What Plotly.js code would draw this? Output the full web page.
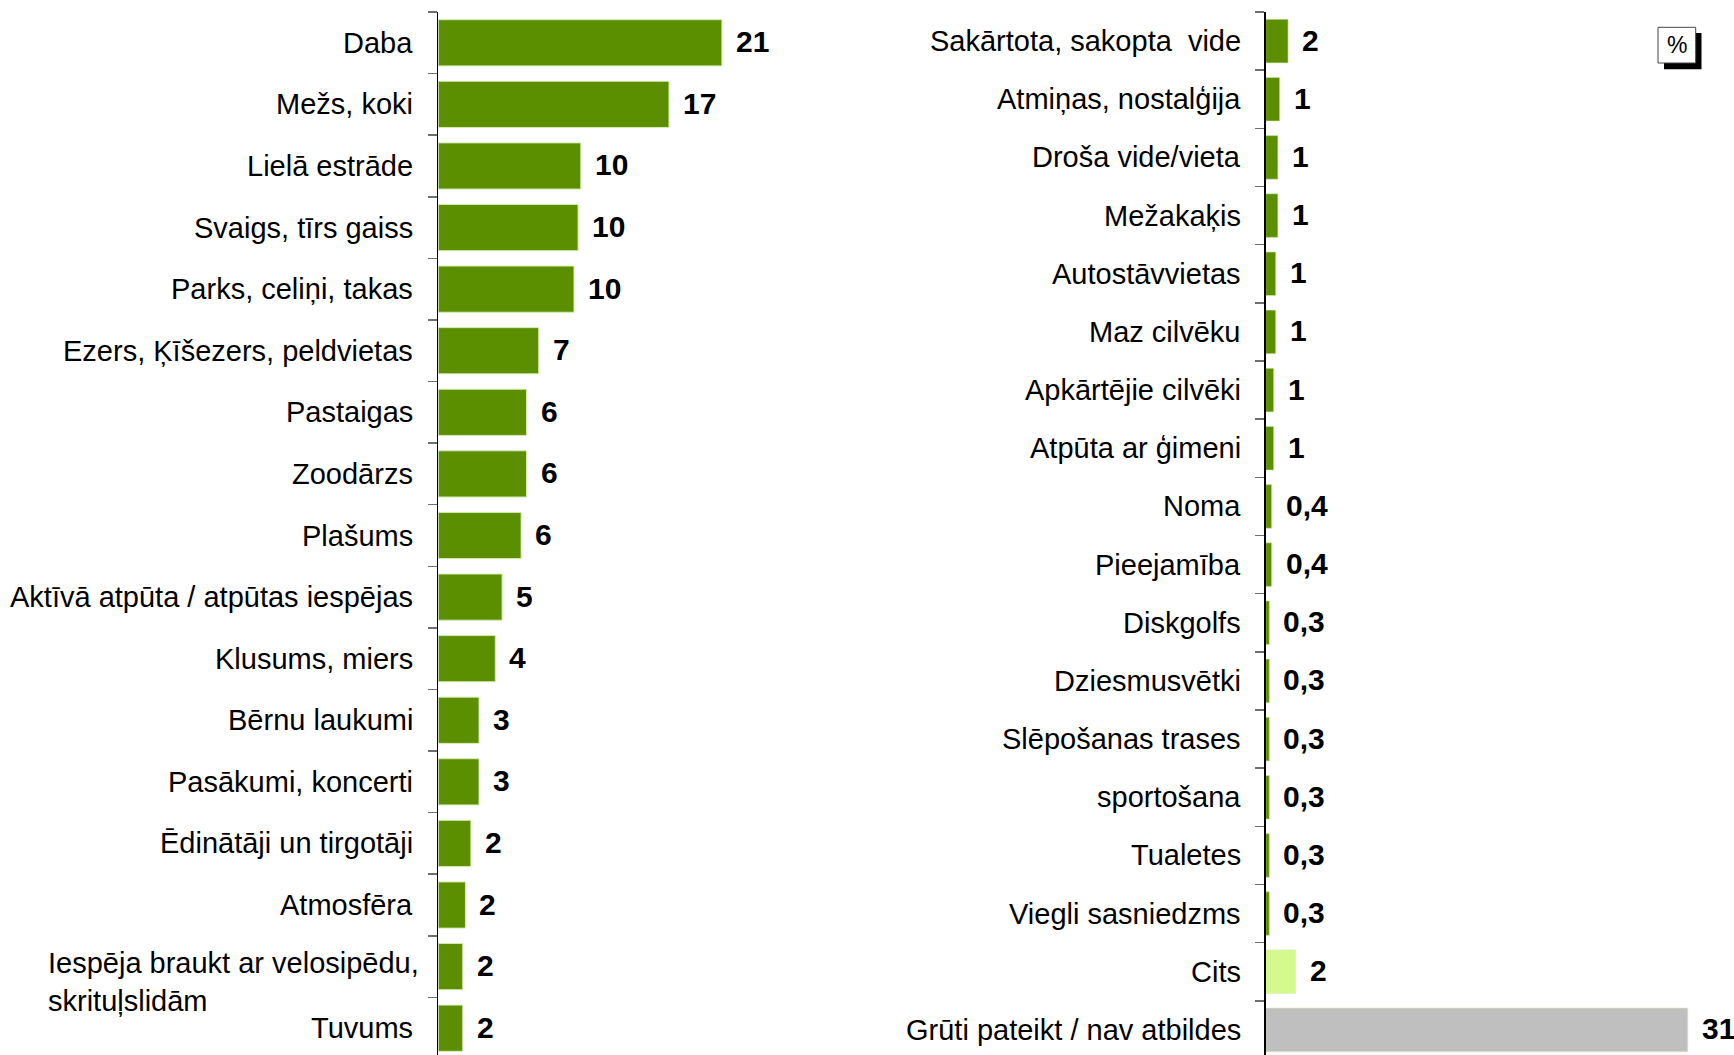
<!DOCTYPE html>
<html>
<head>
<meta charset="utf-8">
<script src="https://cdn.plot.ly/plotly-3.0.1.min.js"></script>
<style>
  html, body { margin: 0; padding: 0; overflow: hidden; background: #fff; }
  #chart { width: 1734px; height: 1059px; }
</style>
</head>
<body>
<div id="chart"></div>
<script>
// ---- Data ----
const leftCategories = [
  'Daba', 'Mežs, koki', 'Lielā estrāde', 'Svaigs, tīrs gaiss', 'Parks, celiņi, takas',
  'Ezers, Ķīšezers, peldvietas', 'Pastaigas', 'Zoodārzs', 'Plašums',
  'Aktīvā atpūta / atpūtas iespējas', 'Klusums, miers', 'Bērnu laukumi',
  'Pasākumi, koncerti', 'Ēdinātāji un tirgotāji', 'Atmosfēra',
  'Iespēja braukt ar velosipēdu,<br>skrituļslidām', 'Tuvums'
];
const leftValues = [20.9, 17.0, 10.5, 10.3, 10.0, 7.4, 6.5, 6.5, 6.1, 4.7, 4.2, 3.0, 3.0, 2.4, 2.0, 1.8, 1.8];
const leftValueLabels = ['21', '17', '10', '10', '10', '7', '6', '6', '6', '5', '4', '3', '3', '2', '2', '2', '2'];

const rightCategories = [
  'Sakārtota, sakopta\u00a0 vide', 'Atmiņas, nostalģija', 'Droša vide/vieta', 'Mežakaķis',
  'Autostāvvietas', 'Maz cilvēku', 'Apkārtējie cilvēki', 'Atpūta ar ģimeni', 'Noma',
  'Pieejamība', 'Diskgolfs', 'Dziesmusvētki', 'Slēpošanas trases', 'sportošana',
  'Tualetes', 'Viegli sasniedzms', 'Cits', 'Grūti pateikt / nav atbildes'
];
const rightValues = [1.65, 1.03, 0.9, 0.9, 0.74, 0.74, 0.59, 0.59, 0.44, 0.44, 0.27, 0.27, 0.27, 0.27, 0.27, 0.27, 2.2, 31.1];
const rightValueLabels = ['2', '1', '1', '1', '1', '1', '1', '1', '0,4', '0,4', '0,3', '0,3', '0,3', '0,3', '0,3', '0,3', '2', '31'];

// ---- Styles ----
const GREEN = '#5b8f00';
const OTHER = '#d4fa8e';
const NOANSWER = '#bfbfbf';
const FONT = 'Arial, "Liberation Sans", sans-serif';
const LABEL_SIZE = 29;
const VALUE_SIZE = 30;
const PX_PER_UNIT = 13.57;
const W = 1734, H = 1059, MT = 12;

const rightColors = rightCategories.map(c =>
  c === 'Cits' ? OTHER : (c.startsWith('Grūti') ? NOANSWER : GREEN));

const leftDomain = [438.3 / W, 800 / W];
const rightDomain = [1265.7 / W, 1];

const traces = [
  {
    type: 'bar', orientation: 'h',
    x: leftValues, y: leftCategories,
    xaxis: 'x', yaxis: 'y',
    marker: { color: GREEN, line: { color: 'rgba(214,236,178,0.95)', width: 1 } },
    hoverinfo: 'skip', showlegend: false
  },
  {
    type: 'bar', orientation: 'h',
    x: rightValues, y: rightCategories,
    xaxis: 'x2', yaxis: 'y2',
    marker: { color: rightColors, line: { color: 'rgba(214,236,178,0.6)', width: 1 } },
    hoverinfo: 'skip', showlegend: false
  }
];

const annotations = [];
function addLabels(cats, vals, texts, xref, yref) {
  cats.forEach((c, i) => {
    const multi = c.includes('<br>');
    annotations.push({
      xref: xref, yref: yref, x: 0, y: c,
      text: c, showarrow: false,
      xanchor: 'right', yanchor: 'middle',
      align: multi ? 'left' : 'right',
      xshift: multi ? -17 : -23, yshift: multi ? -15 : 0,
      font: { family: FONT, size: LABEL_SIZE, color: '#000' }
    });
    annotations.push({
      xref: xref, yref: yref, x: vals[i], y: c,
      text: '<b>' + texts[i] + '</b>', showarrow: false,
      xanchor: 'left', yanchor: 'middle', xshift: 12, yshift: 1,
      font: { family: FONT, size: VALUE_SIZE, color: '#000' }
    });
  });
}
addLabels(leftCategories, leftValues, leftValueLabels, 'x', 'y');
addLabels(rightCategories, rightValues, rightValueLabels, 'x2', 'y2');

// "%" box
const plotH = H - MT;
const py = v => (H - v) / plotH;
annotations.push({
  xref: 'paper', yref: 'paper', x: 1677 / W, y: py(45),
  text: '%', showarrow: false, xanchor: 'center', yanchor: 'middle',
  font: { family: FONT, size: 23, color: '#000' }
});
const shapes = [
  { type: 'rect', xref: 'paper', yref: 'paper', x0: 1664 / W, x1: 1701.5 / W, y0: py(69.3), y1: py(33),
    fillcolor: '#000', line: { width: 0 } },
  { type: 'rect', xref: 'paper', yref: 'paper', x0: 1658 / W, x1: 1695.7 / W, y0: py(63), y1: py(27.3),
    fillcolor: '#fff', line: { color: '#444', width: 1 } }
];

const yaxisCommon = {
  type: 'category', autorange: 'reversed',
  showticklabels: false, showgrid: false, zeroline: false,
  showline: true, linecolor: '#000', linewidth: 1.3,
  ticks: 'outside', tickson: 'boundaries', ticklen: 9, tickwidth: 1.5, tickcolor: '#6e6e6e'
};
const xaxisCommon = {
  showgrid: false, zeroline: false, showline: false, showticklabels: false, ticks: ''
};

const layout = {
  width: W, height: H,
  margin: { l: 0, r: 0, t: MT, b: 0, pad: 0 },
  paper_bgcolor: '#fff', plot_bgcolor: '#fff',
  bargap: 0.25,
  font: { family: FONT },
  xaxis: Object.assign({}, xaxisCommon, { domain: leftDomain, range: [0, (leftDomain[1] - leftDomain[0]) * W / PX_PER_UNIT] }),
  xaxis2: Object.assign({}, xaxisCommon, { domain: rightDomain, range: [0, (rightDomain[1] - rightDomain[0]) * W / PX_PER_UNIT] }),
  yaxis: Object.assign({}, yaxisCommon, { anchor: 'x' }),
  yaxis2: Object.assign({}, yaxisCommon, { anchor: 'x2' }),
  annotations: annotations,
  shapes: shapes
};

Plotly.newPlot('chart', traces, layout, { staticPlot: true, displayModeBar: false });
</script>
</body>
</html>
